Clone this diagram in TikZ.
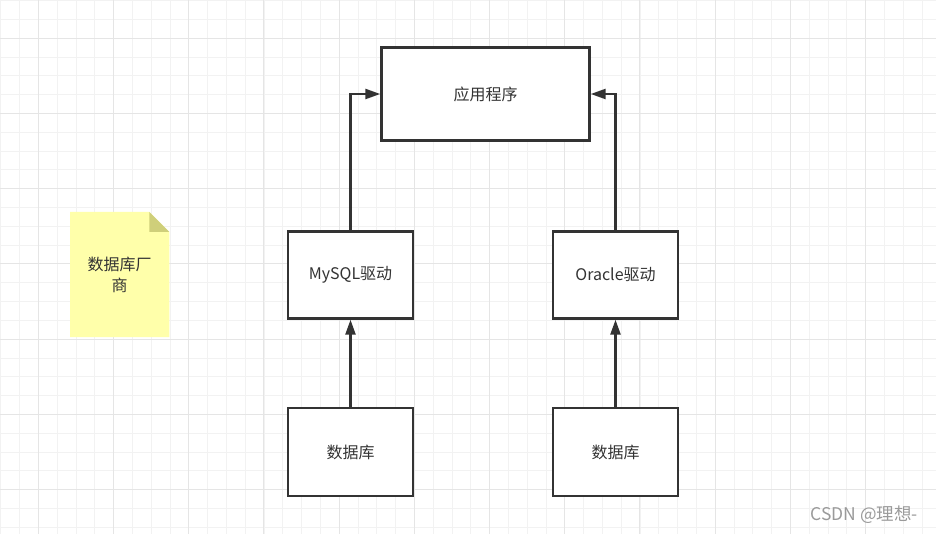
\documentclass[tikz,border=0pt]{standalone}
\usepackage{fontspec}
\setmainfont{Noto Sans CJK SC}
\usetikzlibrary{arrows.meta}
\definecolor{ink}{HTML}{333333}
\definecolor{gridminor}{HTML}{F2F2F2}
\definecolor{gridmajor}{HTML}{E5E5E5}
\definecolor{notefill}{HTML}{FFFFAA}
\definecolor{notefold}{HTML}{CFCF7A}
\definecolor{wm}{HTML}{9A9A9A}
\tikzset{
  boxnode/.style={draw=ink, line width=2.4pt, fill=white, text=ink,
    font=\fontsize{16}{19}\selectfont, inner sep=0pt},
  conn/.style={draw=ink, line width=2.4pt, -{Triangle[length=15pt,width=10pt]}},
  minorline/.style={draw=gridminor, line width=0.8pt},
  majorline/.style={draw=gridmajor, line width=1pt},
}
\begin{document}
\begin{tikzpicture}[x=1pt,y=-1pt]
\useasboundingbox (0,0) rectangle (936,534);
\fill[white] (0,0) rectangle (936,534);
% grid
\foreach \g in {0.7,19.5,...,936} {\draw[minorline] (\g,0) -- (\g,534);}
\foreach \g in {0.7,19.5,...,534} {\draw[minorline] (0,\g) -- (936,\g);}
\foreach \g in {38.3,113.5,...,936} {\draw[majorline] (\g,0) -- (\g,534);}
\foreach \g in {38.3,113.5,...,534} {\draw[majorline] (0,\g) -- (936,\g);}
% note
\fill[notefill] (70,212) -- (149.3,212) -- (169.3,232) -- (169.3,337) -- (70,337) -- cycle;
\fill[notefold] (149.3,212) -- (169.3,232) -- (149.3,232) -- cycle;
\node[align=center, text=ink, font=\fontsize{16}{21}\selectfont] (note) at (119.5,274.5) {数据库厂\\商};
% boxes
\node[boxnode, minimum width=208pt, minimum height=93pt] (app) at (485.5,94) {应用程序};
\node[boxnode, minimum width=125pt, minimum height=87pt] (mysql) at (350.5,275) {MySQL驱动};
\node[boxnode, minimum width=125pt, minimum height=87pt] (oracle) at (615.5,275) {Oracle驱动};
\node[boxnode, minimum width=125pt, minimum height=88pt] (db1) at (350.5,452) {数据库};
\node[boxnode, minimum width=125pt, minimum height=88pt] (db2) at (615.5,452) {数据库};
% connectors
\draw[conn] (mysql.north) |- (app.west);
\draw[conn] (oracle.north) |- (app.east);
\draw[conn] (db1.north) -- (mysql.south);
\draw[conn] (db2.north) -- (oracle.south);
% watermark
\node[anchor=east, text=wm, font=\fontsize{17.5}{19}\selectfont, inner sep=0pt] (wmark) at (918,515) {CSDN @理想-};
\end{tikzpicture}
\end{document}
